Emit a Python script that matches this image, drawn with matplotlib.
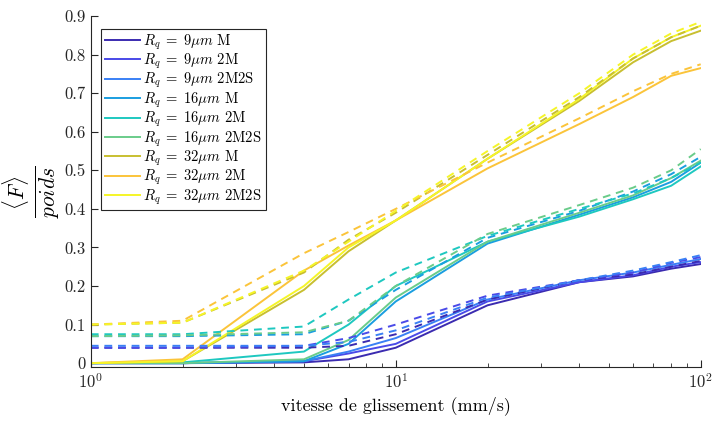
import numpy as np
import matplotlib
matplotlib.use("Agg")
import matplotlib.pyplot as plt

plt.rcParams['font.family'] = 'serif'
plt.rcParams['font.serif'] = ['cmr10', 'DejaVu Serif']
plt.rcParams['mathtext.fontset'] = 'cm'
plt.rcParams['axes.formatter.use_mathtext'] = True

# sliding speed (mm/s)
vitesse = [1, 2, 5, 7, 10, 20, 40, 60, 80, 100]

labels = [r'$R_q\;=\;9\mu m$ M', r'$R_q\;=\;9\mu m$ 2M', r'$R_q\;=\;9\mu m$ 2M2S',
          r'$R_q\;=\;16\mu m$ M', r'$R_q\;=\;16\mu m$ 2M', r'$R_q\;=\;16\mu m$ 2M2S',
          r'$R_q\;=\;32\mu m$ M', r'$R_q\;=\;32\mu m$ 2M', r'$R_q\;=\;32\mu m$ 2M2S']

colors = ['#3b2bb0', '#4a4ae8', '#3a80f5', '#1a9ee0', '#1ec8c0',
          '#6acc8a', '#c8bf30', '#fbc43a', '#f5f528']

# solid curves
f_9_M = [0, 0, 0.002, 0.01, 0.04, 0.15, 0.21, 0.225, 0.245, 0.257]
f_9_2M = [0, 0, 0.005, 0.025, 0.05, 0.16, 0.21, 0.228, 0.25, 0.262]
f_9_2M2S = [0, 0, 0.005, 0.03, 0.065, 0.165, 0.215, 0.235, 0.255, 0.27]
f_16_M = [0, 0, 0.005, 0.05, 0.16, 0.31, 0.385, 0.43, 0.47, 0.52]
f_16_2M = [0, 0.002, 0.03, 0.1, 0.2, 0.315, 0.38, 0.425, 0.46, 0.51]
f_16_2M2S = [0, 0, 0.01, 0.06, 0.17, 0.315, 0.39, 0.435, 0.48, 0.525]
f_32_M = [0, 0.005, 0.19, 0.29, 0.37, 0.53, 0.68, 0.78, 0.835, 0.862]
f_32_2M = [0, 0.01, 0.24, 0.305, 0.37, 0.505, 0.62, 0.69, 0.745, 0.765]
f_32_2M2S = [0, 0.005, 0.2, 0.3, 0.37, 0.53, 0.685, 0.79, 0.845, 0.875]

# dashed curves
d_9_M = [0.04, 0.04, 0.04, 0.045, 0.075, 0.165, 0.215, 0.23, 0.25, 0.265]
d_9_2M = [0.04, 0.04, 0.045, 0.065, 0.1, 0.175, 0.215, 0.235, 0.26, 0.275]
d_9_2M2S = [0.045, 0.045, 0.045, 0.055, 0.085, 0.17, 0.215, 0.24, 0.262, 0.28]
d_16_M = [0.07, 0.07, 0.075, 0.11, 0.19, 0.325, 0.395, 0.445, 0.49, 0.535]
d_16_2M = [0.075, 0.075, 0.095, 0.165, 0.235, 0.33, 0.4, 0.44, 0.48, 0.52]
d_16_2M2S = [0.07, 0.072, 0.08, 0.11, 0.2, 0.335, 0.41, 0.455, 0.5, 0.555]
d_32_M = [0.1, 0.105, 0.235, 0.32, 0.39, 0.54, 0.69, 0.79, 0.845, 0.875]
d_32_2M = [0.1, 0.11, 0.285, 0.34, 0.4, 0.52, 0.635, 0.705, 0.75, 0.775]
d_32_2M2S = [0.1, 0.105, 0.24, 0.315, 0.395, 0.55, 0.7, 0.8, 0.855, 0.885]

solid = [f_9_M, f_9_2M, f_9_2M2S, f_16_M, f_16_2M, f_16_2M2S, f_32_M, f_32_2M, f_32_2M2S]
dashed = [d_9_M, d_9_2M, d_9_2M2S, d_16_M, d_16_2M, d_16_2M2S, d_32_M, d_32_2M, d_32_2M2S]

fig = plt.figure(figsize=(7.15, 4.28), dpi=100)
ax = fig.add_axes([0.127, 0.1425, 0.853, 0.82])

handles = []
for ys, c, lab in zip(solid, colors, labels):
    h, = ax.plot(vitesse, ys, '-', color=c, lw=1.4, label=lab)
    handles.append(h)
for ys, c in zip(dashed, colors):
    ax.plot(vitesse, ys, '--', color=c, lw=1.4, dashes=(4, 3))

ax.set_xscale('log')
ax.set_xlim(1, 100)
ax.set_ylim(-0.01, 0.9)
ax.set_yticks(np.arange(0, 0.91, 0.1))
ax.set_yticklabels(['0', '0.1', '0.2', '0.3', '0.4', '0.5', '0.6', '0.7', '0.8', '0.9'])
ax.tick_params(direction='in', which='both', labelsize=12, colors='#262626')
ax.tick_params(which='major', length=5)
ax.tick_params(which='minor', length=3)
for s in ['top', 'right']:
    ax.spines[s].set_visible(False)
for s in ['left', 'bottom']:
    ax.spines[s].set_color('#262626')

ax.set_xlabel('vitesse de glissement (mm/s)', fontsize=13)
ax.set_ylabel(r'$\frac{\langle F \rangle}{poids}$', fontsize=22, labelpad=2)

leg = ax.legend(handles=handles, loc='upper left', fontsize=10.5, handlelength=2.4,
                handletextpad=0.25, labelspacing=0.0, borderpad=0.25,
                fancybox=False, edgecolor='#262626', framealpha=1,
                bbox_to_anchor=(0.005, 0.985))
leg.get_frame().set_linewidth(0.8)

fig.savefig('out.png', dpi=100)
